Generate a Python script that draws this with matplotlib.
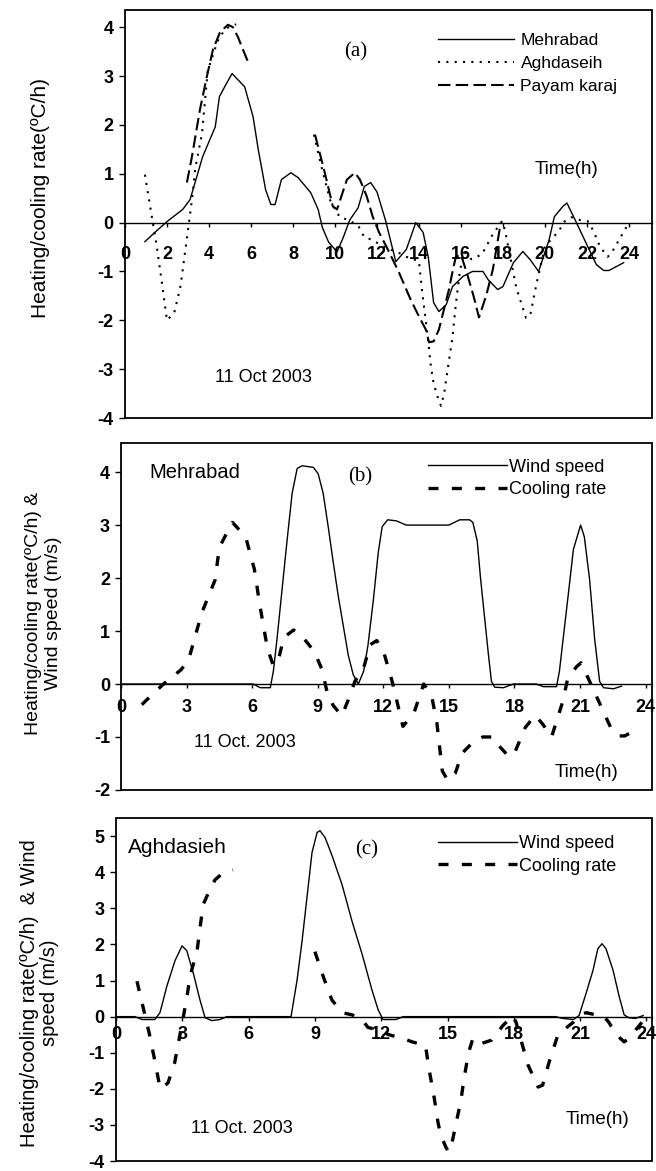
import numpy as np
import matplotlib
matplotlib.use("Agg")
import matplotlib.pyplot as plt
from matplotlib.patches import Rectangle

plt.rcParams['font.family'] = ['Liberation Sans', 'DejaVu Sans']
plt.rcParams['axes.unicode_minus'] = False
nan = np.nan

# Heating/cooling rate (C/h), 11 Oct 2003
mehrabad_t = [0.95, 1.5, 2.0, 2.75, 3.1, 3.7, 4.3, 4.5, 4.85, 5.1,
              5.7, 6.1, 6.35, 6.7, 6.95, 7.15, 7.45, 7.9, 8.25, 8.85,
              9.2, 9.4, 9.7, 10.1, 10.4, 10.7, 11.1, 11.4, 11.7, 12.0,
              12.4, 12.9, 13.4, 13.85, 14.2, 14.45, 14.7, 14.95, 15.3, 15.6,
              16.1, 16.55, 17.05, 17.3, 17.75, 18.0, 18.5, 18.95, 19.3, 19.7,
              20.2, 20.45, 20.85, 21.05, 21.5, 21.95, 22.45, 22.8, 23.05, 23.75]
mehrabad_v = [-0.39, -0.17, 0.02, 0.27, 0.47, 1.35, 1.96, 2.58, 2.86, 3.05,
              2.78, 2.17, 1.49, 0.67, 0.37, 0.37, 0.88, 1.02, 0.92, 0.61,
              0.27, -0.1, -0.4, -0.6, -0.3, 0.05, 0.3, 0.74, 0.82, 0.63,
              0.06, -0.8, -0.55, 0.0, -0.2, -0.72, -1.64, -1.82, -1.68, -1.31,
              -1.1, -1.0, -1.0, -1.17, -1.37, -1.31, -0.82, -0.59, -0.76, -1.0,
              -0.35, 0.12, 0.33, 0.4, 0.0, -0.41, -0.86, -0.98, -0.98, -0.82]

aghdaseih_t = [0.95, 1.25, 1.5, 1.75, 2.0, 2.35, 2.65, 3.0, 3.2, 3.35, 3.67, 3.94, 4.2, 4.48, 4.84, 5.29, nan,
               9.0, 9.37, 9.77, 10.23, 10.68, 11.13, 11.4, 11.76, 12.35, 13.1,
               13.4, 14.0, 14.16, 14.4, 14.57, 14.7, 14.93, 15.05, 15.2, 15.38,
               15.6, 15.75, 15.95, 16.15, 16.5, 17.0, 17.5, 17.96, 18.1, 18.64,
               19.1, 19.3, 19.6, 20.0, 20.68, 20.95, 21.27, 21.7, 22.04, 22.3,
               22.62, 22.99, 23.2, 23.67, 23.9]
aghdaseih_v = [0.98, 0.2, -0.45, -1.2, -2.0, -1.84, -1.29, -0.16, 0.5, 1.12, 1.83, 3.1, 3.45, 3.79, 3.98, 4.06, nan,
               1.8, 1.12, 0.46, 0.11, 0.05, -0.08, -0.3, -0.35, -0.5, -0.63,
               -0.7, -0.79, -1.44, -2.26, -2.94, -3.3, -3.62, -3.75, -3.5, -2.97,
               -2.34, -1.7, -1.0, -0.6, -0.75, -0.65, -0.25, 0.03, -0.16, -1.34,
               -1.95, -1.9, -1.25, -0.49, -0.16, 0.03, 0.11, 0.05, 0.03, -0.16,
               -0.49, -0.7, -0.6, -0.25, -0.08]

payam_t = [2.95, 3.19, 3.57, 3.9, 4.19, 4.52, 4.9, 5.14, 5.38, 5.62, 5.86, nan,
           9.05, 9.5, 9.9, 10.1, 10.57, 10.95, 11.19, 11.52, 11.8, 12.1,
           12.45, 13.05, 13.6, 14.0, 14.33, 14.48, 14.7, 14.95, 15.19, 15.43,
           15.62, 15.76, 16.0, 16.33, 16.6, 16.86, 17.2, 17.52, 17.9]
payam_v = [0.82, 1.35, 2.31, 2.99, 3.54, 3.89, 4.05, 4.0, 3.8, 3.54, 3.29, nan,
           1.8, 1.05, 0.33, 0.27, 0.88, 1.02, 0.88, 0.53, 0.12, -0.2,
           -0.49, -1.02, -1.57, -1.92, -2.19, -2.45, -2.43, -2.19, -1.78, -1.37,
           -0.96, -0.7, -0.65, -1.1, -1.5, -1.94, -1.5, -0.96, 0.0]

# Wind speed (m/s)
wind_meh_t = [0.0, 6.05, 6.37, 6.83, 6.97, 7.14, 7.37, 7.6, 7.83, 8.06,
              8.29, 8.8, 9.02, 9.25, 9.48, 9.71, 9.94, 10.17, 10.4, 10.63,
              10.86, 11.1, 11.3, 11.55, 11.77, 11.95, 12.2, 12.6, 13.05, 15.0,
              15.5, 15.95, 16.1, 16.3, 16.45, 16.6, 16.8, 16.95, 17.1, 17.5,
              17.96, 19.0, 19.33, 19.93, 20.06, 20.48, 20.7, 21.03, 21.2, 21.44,
              21.67, 21.9, 22.08, 22.54, 22.9]
wind_meh_v = [0.0, 0.0, -0.07, -0.07, 0.24, 0.86, 1.79, 2.72, 3.6, 4.07,
              4.12, 4.09, 3.97, 3.6, 2.97, 2.3, 1.66, 1.1, 0.54, 0.17,
              0.0, 0.24, 0.73, 1.6, 2.48, 2.97, 3.1, 3.08, 3.0, 3.0,
              3.1, 3.1, 3.05, 2.7, 2.0, 1.4, 0.6, 0.05, -0.06, -0.07,
              0.0, 0.0, -0.05, -0.05, 0.24, 1.74, 2.54, 3.0, 2.78, 1.98,
              0.86, 0.05, -0.07, -0.09, -0.04]

wind_agh_t = [0.0, 0.86, 1.18, 1.76, 1.99, 2.3, 2.67, 2.99, 3.2, 3.5,
              3.8, 4.03, 4.34, 4.7, 5.02, 7.92, 8.19, 8.42, 8.64, 8.87,
              9.1, 9.23, 9.46, 9.77, 10.23, 10.68, 11.13, 11.58, 11.86, 12.08,
              12.67, 12.99, 19.9, 20.2, 20.7, 20.95, 21.27, 21.58, 21.8, 21.99,
              22.17, 22.49, 22.76, 22.99, 23.2, 23.5, 23.85]
wind_agh_v = [0.0, 0.0, -0.08, -0.08, 0.11, 0.84, 1.55, 1.96, 1.83, 1.2,
              0.46, -0.03, -0.11, -0.08, 0.0, 0.0, 1.0, 2.1, 3.3, 4.55,
              5.1, 5.15, 4.96, 4.47, 3.65, 2.64, 1.74, 0.74, 0.19, -0.08,
              -0.08, 0.0, 0.0, -0.05, -0.08, 0.03, 0.65, 1.28, 1.88, 2.02,
              1.88, 1.28, 0.57, 0.05, -0.03, -0.05, 0.03]

dotted = (0, (1, 3))
long_dash = (0, (6, 2.5))
thick_dash = (0, (3, 4))


def style_axes(ax, xmax, ylim, xticks, yticks, xpad):
    ax.set_xlim(0, xmax)
    ax.set_ylim(*ylim)
    for s in ['top', 'right', 'left']:
        ax.spines[s].set_visible(False)
    ax.spines['bottom'].set_position(('data', 0))
    ax.spines['bottom'].set_linewidth(1.0)
    ax.add_patch(Rectangle((0, 0), 1, 1, transform=ax.transAxes, fill=False,
                           lw=1.3, clip_on=False, zorder=5))
    ax.set_xticks(xticks)
    ax.set_yticks(yticks)
    ax.tick_params(axis='x', direction='out', length=3, width=1, pad=xpad,
                   labelsize=13)
    ax.tick_params(axis='y', direction='out', length=4, width=1, pad=4,
                   labelsize=13)
    for lab in ax.get_xticklabels() + ax.get_yticklabels():
        lab.set_fontweight('bold')


fig = plt.figure(figsize=(6.56, 11.71), dpi=100)

# (a)
ax1 = fig.add_axes([0.1905, 0.643, 0.8034, 0.3484])
ax1.plot(mehrabad_t, mehrabad_v, color='black', lw=1.0, label='Mehrabad')
ax1.plot(aghdaseih_t, aghdaseih_v, color='black', lw=1.5, ls=dotted, label='Aghdaseih')
ax1.plot(payam_t, payam_v, color='black', lw=1.5, ls=long_dash, label='Payam karaj')
style_axes(ax1, 25.1, (-4, 4.35), range(0, 25, 2), range(-4, 5), 14)
ax1.text(-0.16, 0.54, 'Heating/cooling rate(ºC/h)', transform=ax1.transAxes,
         rotation=90, ha='center', va='center', fontsize=15)
ax1.text(0.438, 0.897, '(a)', transform=ax1.transAxes, ha='center', va='center',
         fontsize=15, family='Liberation Serif')
ax1.text(0.837, 0.608, 'Time(h)', transform=ax1.transAxes, ha='center', va='center',
         fontsize=13.5)
ax1.text(0.262, 0.10, '11 Oct 2003', transform=ax1.transAxes, ha='center', va='center',
         fontsize=13)
ax1.legend(loc='upper left', bbox_to_anchor=(0.594, 0.945), frameon=False,
           fontsize=12.5, handlelength=4.4, handletextpad=0.35, labelspacing=0.45,
           borderpad=0, borderaxespad=0)

# (b)
ax2 = fig.add_axes([0.1845, 0.3254, 0.8095, 0.2963])
ax2.plot(wind_meh_t, wind_meh_v, color='black', lw=1.0, label='Wind speed')
ax2.plot(mehrabad_t, mehrabad_v, color='black', lw=2.4, ls=thick_dash, label='Cooling rate')
style_axes(ax2, 24.3, (-2, 4.55), range(0, 25, 3), range(-2, 5), 8)
ax2.text(-0.146, 0.51, 'Heating/cooling rate(ºC/h) &\nWind speed (m/s)',
         transform=ax2.transAxes, rotation=90, ha='center', va='center',
         fontsize=14, linespacing=1.2, multialignment='center')
ax2.text(0.139, 0.916, 'Mehrabad', transform=ax2.transAxes, ha='center', va='center',
         fontsize=14.5)
ax2.text(0.45, 0.902, '(b)', transform=ax2.transAxes, ha='center', va='center',
         fontsize=15, family='Liberation Serif')
ax2.text(0.234, 0.138, '11 Oct. 2003', transform=ax2.transAxes, ha='center', va='center',
         fontsize=13)
ax2.text(0.876, 0.049, 'Time(h)', transform=ax2.transAxes, ha='center', va='center',
         fontsize=13.5)
ax2.legend(loc='upper left', bbox_to_anchor=(0.578, 0.955), frameon=False,
           fontsize=13, handlelength=4.4, handletextpad=0.1, labelspacing=0.3,
           borderpad=0, borderaxespad=0)

# (c)
ax3 = fig.add_axes([0.1768, 0.0085, 0.8171, 0.2929])
ax3.plot(wind_agh_t, wind_agh_v, color='black', lw=1.0, label='Wind speed')
ax3.plot(aghdaseih_t, aghdaseih_v, color='black', lw=2.4, ls=thick_dash, label='Cooling rate')
style_axes(ax3, 24.25, (-4, 5.5), range(0, 25, 3), range(-4, 6), 3.5)
ax3.text(-0.143, 0.49, 'Heating/cooling rate(ºC/h)  & Wind\nspeed (m/s)',
         transform=ax3.transAxes, rotation=90, ha='center', va='center',
         fontsize=14.5, linespacing=1.1, multialignment='center')
ax3.text(0.114, 0.914, 'Aghdasieh', transform=ax3.transAxes, ha='center', va='center',
         fontsize=15)
ax3.text(0.468, 0.908, '(c)', transform=ax3.transAxes, ha='center', va='center',
         fontsize=15, family='Liberation Serif')
ax3.text(0.235, 0.095, '11 Oct. 2003', transform=ax3.transAxes, ha='center', va='center',
         fontsize=13)
ax3.text(0.899, 0.121, 'Time(h)', transform=ax3.transAxes, ha='center', va='center',
         fontsize=13.5)
ax3.legend(loc='upper left', bbox_to_anchor=(0.60, 0.95), frameon=False,
           fontsize=13, handlelength=4.4, handletextpad=0.1, labelspacing=0.3,
           borderpad=0, borderaxespad=0)

fig.savefig('out.png', dpi=100, facecolor='white')
